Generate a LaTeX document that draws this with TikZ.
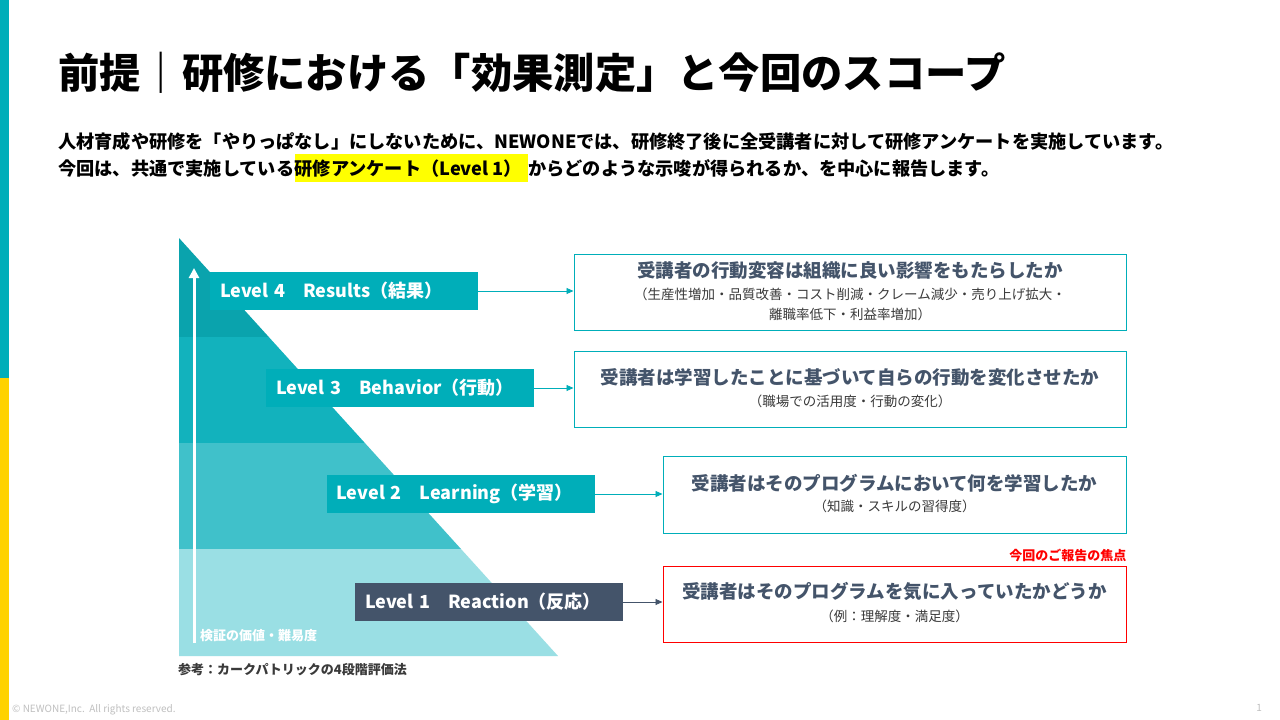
\documentclass[tikz,border=0pt]{standalone}
\usepackage{fontspec}
\setmainfont{Noto Sans CJK JP}
\usetikzlibrary{arrows.meta,calc}
\definecolor{tealA}{HTML}{00AEB9}
\definecolor{bandA}{HTML}{0AA3AD}
\definecolor{bandB}{HTML}{12B2BD}
\definecolor{bandC}{HTML}{40C1CA}
\definecolor{bandD}{HTML}{9ADFE4}
\definecolor{slate}{HTML}{44546A}
\definecolor{subgray}{HTML}{3A3A3A}
\definecolor{barY}{HTML}{FFD200}
\definecolor{footgray}{HTML}{BFBFBF}
\definecolor{hl}{HTML}{FFFF00}
\begin{document}
\begin{tikzpicture}[x=1pt,y=-1pt,
  lvl/.style={fill=tealA,text=white,minimum width=268,minimum height=38,inner sep=0,
    text width=248,align=left,font=\fontsize{18}{20}\selectfont\bfseries},
  rbox/.style={draw=tealA,line width=1pt,minimum width=552,minimum height=76,inner sep=0},
  mtxt/.style={anchor=base,inner sep=0,text=slate,font=\fontsize{18.5}{22}\selectfont\bfseries},
  stxt/.style={anchor=base,inner sep=0,text=subgray,font=\fontsize{13.5}{16}\selectfont},
  conn/.style={line width=0.9pt,-{Triangle[length=7,width=6]}},
  body/.style={anchor=base west,inner sep=0,font=\fontsize{18.2}{22}\selectfont\bfseries}
]
\useasboundingbox (0,0) rectangle (1280,720);
\fill[white] (0,0) rectangle (1280,720);
% left bars
\fill[tealA] (0,0) rectangle (9,378);
\fill[barY] (0,378) rectangle (9,720);
% title
\node[anchor=base west,inner sep=0,font=\fontsize{41.3}{45}\selectfont\bfseries] (title) at (58,88) {前提｜研修における「効果測定」と今回のスコープ};
% body
\node[body] (l1) at (58,148) {人材育成や研修を「やりっぱなし」にしないために、NEWONEでは、研修終了後に全受講者に対して研修アンケートを実施しています。};
\node[body] (l2a) at (58,175) {今回は、共通で実施している};
\node[body,fill=hl,inner ysep=5pt,inner xsep=0pt] (l2b) at (l2a.base east) {研修アンケート（Level 1）\kern6pt};
\node[body] (l2c) at (l2b.base east) {からどのような示唆が得られるか、を中心に報告します。};
% pyramid bands
\fill[bandA] (179,238) -- (268.8,337) -- (179,337) -- cycle;
\fill[bandB] (179,337) -- (268.8,337) -- (364.9,443) -- (179,443) -- cycle;
\fill[bandC] (179,443) -- (364.9,443) -- (461,549) -- (179,549) -- cycle;
\fill[bandD] (179,549) -- (461,549) -- (558,656) -- (179,656) -- cycle;
% vertical arrow
\coordinate (ab) at (194,643);
\coordinate (at) at (194,268);
\draw[white,line width=3pt,-{Triangle[length=10,width=10]}] (ab) -- (at);
\node[anchor=base west,inner sep=0,text=white,font=\fontsize{13}{15}\selectfont\bfseries] (axl) at (200,640) {検証の価値・難易度};
% level boxes
\node[lvl] (L4) at (344,291) {Level 4　Results（結果）};
\node[lvl] (L3) at (400,388) {Level 3　Behavior（行動）};
\node[lvl] (L2) at (460.5,494) {Level 2　Learning（学習）};
\node[lvl,fill=slate] (L1) at (489,602) {Level 1　Reaction（反応）};
% right boxes
\node[rbox] (B4) at (850,292) {};
\node[rbox] (B3) at (850,389) {};
\node[rbox,minimum width=463,minimum height=77] (B2) at (894.5,494.5) {};
\node[rbox,draw=red,minimum width=463] (B1) at (894.5,604) {};
% texts in boxes
\node[mtxt] (t4) at ($(B4.center)+(0,-15)$) {受講者の行動変容は組織に良い影響をもたらしたか};
\node[stxt] (s4a) at ($(B4.center)+(0,7)$) {（生産性増加・品質改善・コスト削減・クレーム減少・売り上げ拡大・};
\node[stxt] (s4b) at ($(B4.center)+(0,27)$) {離職率低下・利益率増加）};
\node[mtxt] (t3) at ($(B3.center)+(0,-5)$) {受講者は学習したことに基づいて自らの行動を変化させたか};
\node[stxt] (s3) at ($(B3.center)+(0,17)$) {（職場での活用度・行動の変化）};
\node[mtxt] (t2) at ($(B2.center)+(0,-4.5)$) {受講者はそのプログラムにおいて何を学習したか};
\node[stxt] (s2) at ($(B2.center)+(0,16.5)$) {（知識・スキルの習得度）};
\node[mtxt] (t1) at ($(B1.center)+(0,-6)$) {受講者はそのプログラムを気に入っていたかどうか};
\node[stxt] (s1) at ($(B1.center)+(0,17)$) {（例：理解度・満足度）};
\node[anchor=base east,inner sep=0,text=red,font=\fontsize{13}{15}\selectfont\bfseries] (focus) at ($(B1.north east)+(0,-5)$) {今回のご報告の焦点};
% connectors
\draw[conn,tealA] (L4.east) -- (L4.east -| B4.west);
\draw[conn,tealA] (L3.east) -- (L3.east -| B3.west);
\draw[conn,tealA] (L2.east) -- (L2.east -| B2.west);
\draw[conn,slate] (L1.east) -- (L1.east -| B1.west);
% reference note
\node[anchor=base west,inner sep=0,text=subgray,font=\fontsize{13}{15}\selectfont\bfseries] (ref) at (178,674) {参考：カークパトリックの4段階評価法};
% footer
\node[anchor=base west,inner sep=0,text=footgray,font=\fontsize{10}{12}\selectfont] (copy) at (12,712) {© NEWONE,Inc.\ \ All rights reserved.};
\node[anchor=base east,inner sep=0,text=footgray,font=\fontsize{10}{12}\selectfont] (pg) at (1262,711) {1};
\end{tikzpicture}
\end{document}
